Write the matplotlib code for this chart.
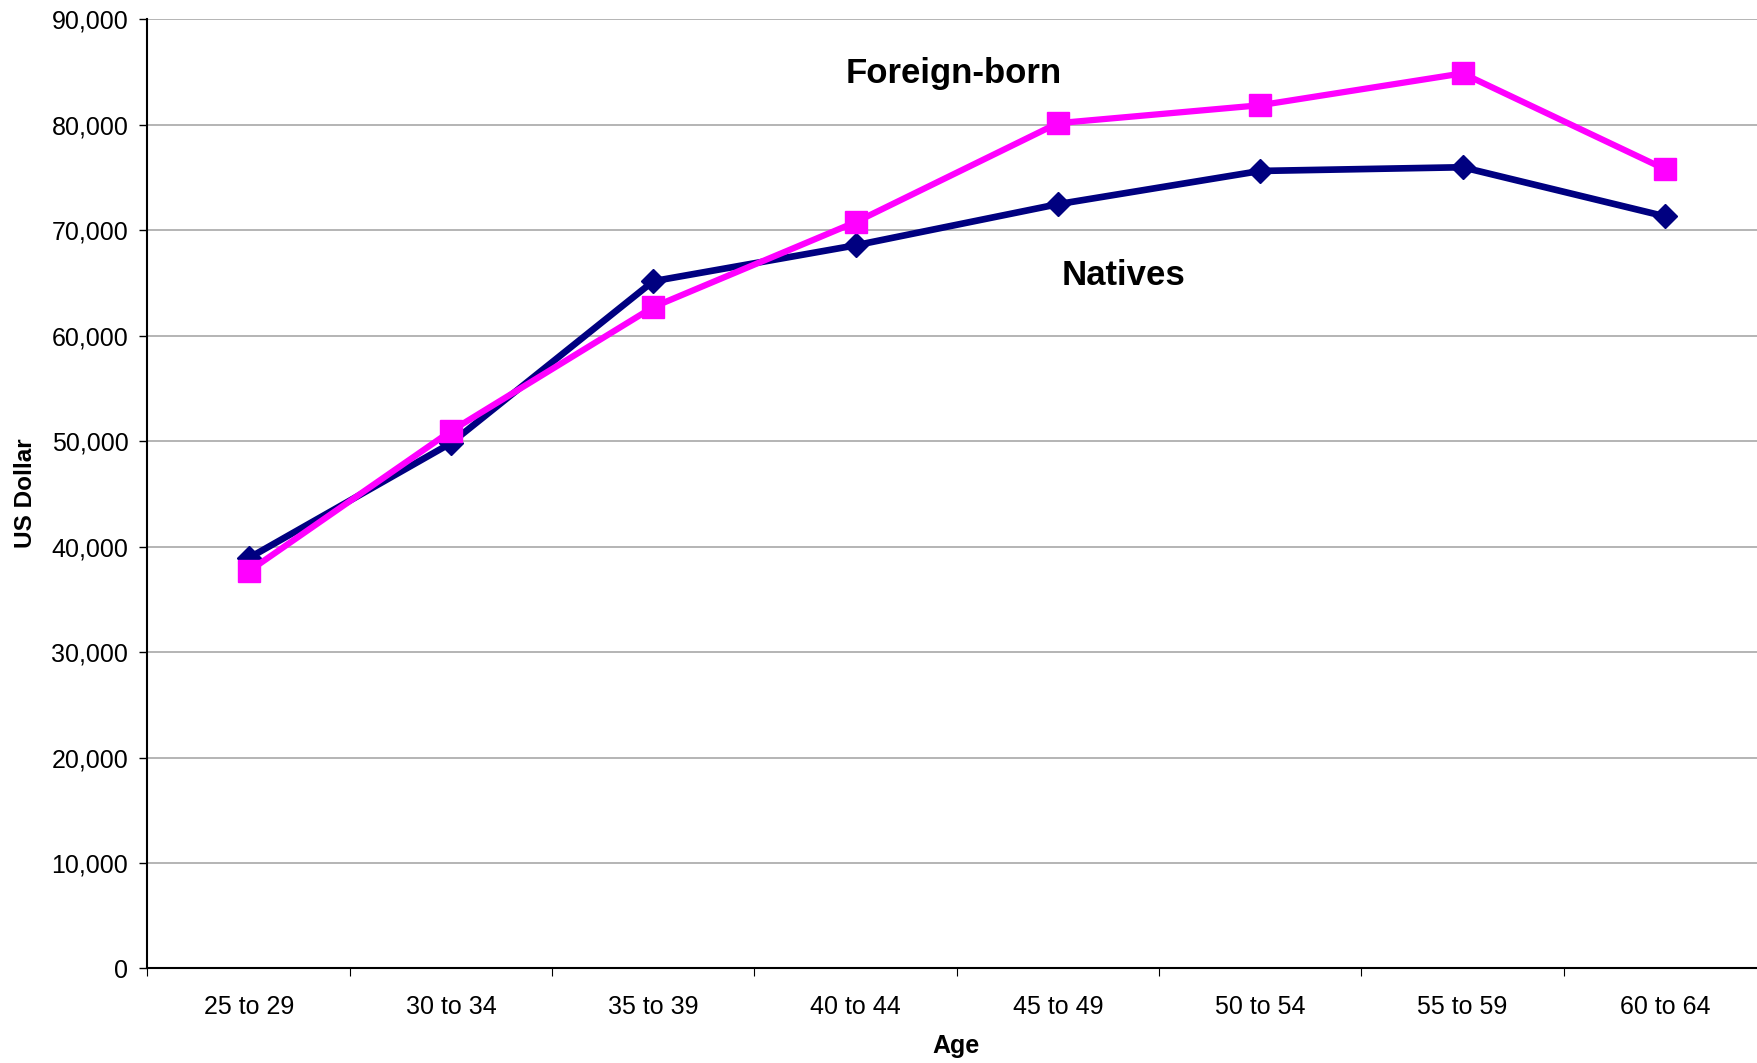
import matplotlib
matplotlib.use("Agg")
import matplotlib.pyplot as plt
from matplotlib.ticker import FuncFormatter, FixedLocator

plt.rcParams['font.family'] = ['Liberation Sans', 'DejaVu Sans']

# median earnings by age group
ages = ['25 to 29', '30 to 34', '35 to 39', '40 to 44',
        '45 to 49', '50 to 54', '55 to 59', '60 to 64']
natives = [38900, 49800, 65150, 68550, 72450, 75600, 75950, 71300]
foreign_born = [37650, 50950, 62700, 70750, 80130, 81830, 84850, 75770]
y_ticks = list(range(0, 90001, 10000))

fig = plt.figure(figsize=(17.58, 10.63), dpi=100)
ax = fig.add_axes([0.0839, 0.0889, 0.9207, 0.8932])

x = list(range(len(ages)))

# natives first so the foreign-born line sits on top
ax.plot(x, natives, color='#000080', lw=4.8, marker='D', ms=12,
        mfc='#000080', mec='#000080', mew=1, zorder=3)
ax.plot(x, foreign_born, color='#FF00FF', lw=4.5, marker='s', ms=16.5,
        mfc='#FF00FF', mec='#FF00FF', mew=1, zorder=4)

# series labels placed next to the lines
ax.text(2.953, 83910, 'Foreign-born', fontsize=25, fontweight='bold',
        ha='left', va='baseline')
ax.text(4.02, 64790, 'Natives', fontsize=25, fontweight='bold',
        ha='left', va='baseline')

ax.set_xlim(-0.5, len(ages) - 0.5)
ax.set_ylim(0, 90000)

# y axis
ax.set_yticks(y_ticks)
ax.yaxis.set_major_formatter(FuncFormatter(lambda v, p: '{:,.0f}'.format(v)))
ax.tick_params(axis='y', direction='out', length=5.8, width=1,
               labelsize=18, pad=8)
ax.grid(axis='y', color='#a0a0a0', lw=1.1, zorder=0)

# x axis: ticks between categories, labels centred on them
ax.xaxis.set_major_locator(FixedLocator([i - 0.5 for i in range(len(ages) + 1)]))
ax.xaxis.set_minor_locator(FixedLocator(x))
ax.set_xticklabels([], minor=False)
ax.set_xticklabels(ages, minor=True)
ax.tick_params(axis='x', which='major', direction='out', length=5.8, width=0.8)
ax.tick_params(axis='x', which='minor', length=0, labelsize=18, pad=19)

for side in ['top', 'right']:
    ax.spines[side].set_visible(False)
ax.spines['left'].set_linewidth(1.5)
ax.spines['bottom'].set_linewidth(1.5)

fig.text(956 / 1758, 10 / 1063, 'Age', fontsize=18, fontweight='bold',
         ha='center', va='baseline')
fig.text(26 / 1758, 0.5356, 'US Dollar', fontsize=17.5, fontweight='bold',
         rotation=90, ha='center', va='center')

fig.savefig('out.png', dpi=100)
